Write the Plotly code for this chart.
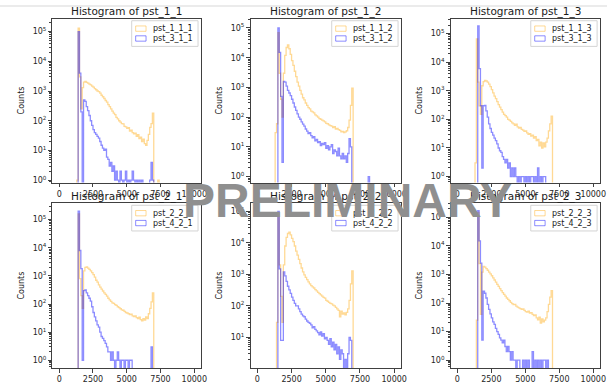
import plotly.graph_objects as go

# ---------------- data (bin counts, bins of width 100 starting at 1200) ----------------
bin_start = 1200
bin_width = 100

panel_titles = ["Histogram of pst_1_1", "Histogram of pst_1_2", "Histogram of pst_1_3",
                "Histogram of pst_2_1", "Histogram of pst_2_2", "Histogram of pst_2_3"]
orange_names = ["pst_1_1_1", "pst_1_1_2", "pst_1_1_3", "pst_2_2_1", "pst_2_2_2", "pst_2_2_3"]
blue_names = ["pst_3_1_1", "pst_3_1_2", "pst_3_1_3", "pst_4_2_1", "pst_4_2_2", "pst_4_2_3"]

pst_1_1_1 = [0, 1, 130000, 3000, 250, 1300, 2000, 2100, 1950, 1850, 1700, 1600, 1450, 1350, 1200,
             1100, 1000, 950, 850, 720, 640, 560, 480, 420, 350, 300, 250, 210, 180, 160, 130, 115,
             100, 90, 80, 78, 65, 62, 55, 58, 45, 48, 40, 36, 38, 30, 34, 25, 28, 20, 24, 17, 15,
             22, 35, 60, 80, 180, 0, 0, 0, 1]
pst_3_1_1 = [0, 0, 100000, 4000, 200, 0, 500, 450, 300, 220, 150, 100, 70, 50, 40, 35, 30, 26, 20,
             15, 12, 10, 11, 6, 5, 3, 4, 2, 3, 1, 2, 1, 0, 2, 1, 0, 1, 2, 0, 1, 0, 1, 2, 1, 0, 1,
             0, 1, 0, 1, 0, 0, 0, 0, 0, 1, 4, 1]
pst_1_1_2 = [0, 30, 60, 70000, 3000, 400, 100, 3000, 12000, 22000, 27000, 20000, 13000, 8000, 5500,
             3500, 2300, 1500, 1100, 800, 600, 450, 380, 300, 250, 210, 190, 160, 150, 140, 120,
             110, 100, 90, 85, 80, 75, 70, 62, 60, 55, 52, 50, 45, 48, 40, 42, 38, 36, 32, 33, 30,
             32, 35, 45, 80, 250, 950]
pst_3_1_2 = [0, 0, 0, 100000, 15000, 500, 3, 1600, 1500, 1100, 800, 650, 530, 400, 300, 220, 170,
             130, 100, 85, 70, 58, 50, 40, 34, 28, 30, 24, 20, 22, 16, 18, 14, 15, 11, 13, 12, 14,
             9, 11, 8, 10, 12, 6, 8, 7, 5, 9, 5, 4, 6, 4, 5, 3, 6, 19, 10, 0, 0, 0, 0, 0, 0, 0, 0,
             0, 0, 0, 0, 1]
pst_1_1_3 = [0, 3, 65000, 2000, 300, 150, 1500, 2100, 2300, 2200, 2000, 1700, 1400, 1100, 850, 650,
             530, 420, 330, 270, 220, 180, 150, 135, 120, 100, 95, 85, 75, 70, 62, 68, 55, 50, 52,
             45, 42, 38, 40, 34, 30, 32, 26, 28, 22, 25, 18, 20, 12, 16, 10, 15, 11, 16, 22, 40,
             70, 130]
pst_3_1_3 = [0, 0, 0, 185000, 6000, 300, 2, 300, 310, 200, 120, 70, 48, 35, 28, 22, 18, 14, 10, 8,
             7, 5, 4, 3, 4, 2, 3, 1, 2, 1, 2, 1, 0, 1, 0, 1, 1, 0, 1, 0, 1, 0, 1, 1, 0, 1, 0, 2, 0,
             1, 0, 1, 1]
pst_2_2_1 = [0, 0, 160000, 800, 200, 70, 1500, 2000, 2100, 1900, 1700, 1500, 1300, 1100, 900, 700,
             600, 480, 400, 340, 290, 250, 220, 190, 160, 140, 125, 110, 105, 95, 90, 80, 75, 68,
             62, 60, 55, 50, 48, 45, 42, 44, 38, 36, 38, 33, 30, 34, 28, 25, 30, 27, 35, 30, 45,
             70, 120, 250]
pst_4_2_1 = [0, 0, 200000, 8000, 1800, 1, 300, 320, 250, 200, 160, 126, 80, 50, 35, 25, 18, 15,
             10, 7, 6, 5, 4, 3, 2, 2, 1, 2, 1, 0, 1, 2, 1, 0, 1, 1, 0, 1, 1, 0, 1, 1, 0, 0, 0, 0,
             0, 0, 0, 0, 0, 0, 0, 0, 0, 0, 3]
pst_2_2_2 = [0, 0, 30, 90000, 2000, 200, 30, 2000, 8000, 15000, 20000, 22000, 18000, 14000, 11000,
             8000, 5500, 4100, 3000, 2200, 1600, 1200, 970, 800, 680, 580, 500, 440, 400, 370, 330,
             300, 270, 245, 225, 205, 185, 175, 150, 140, 130, 120, 115, 105, 100, 90, 80, 72, 45,
             68, 55, 60, 52, 62, 80, 150, 500, 1300]
pst_4_2_2 = [0, 0, 0, 100000, 1500, 8, 8, 1200, 900, 600, 420, 320, 250, 190, 150, 120, 100, 100,
             80, 66, 55, 48, 45, 38, 33, 30, 28, 25, 20, 22, 18, 16, 14, 12, 15, 11, 13, 9, 10, 8,
             6, 9, 5, 7, 4, 6, 3, 5, 2, 4, 3, 1, 2, 1, 3, 10, 8]
pst_2_2_3 = [0, 0, 25, 150000, 2400, 40, 1200, 1900, 1800, 1600, 1400, 1200, 1050, 900, 760, 640,
             540, 450, 380, 320, 270, 230, 200, 175, 150, 135, 120, 105, 95, 88, 90, 78, 72, 68,
             64, 60, 62, 55, 50, 48, 52, 44, 46, 40, 36, 38, 30, 26, 32, 20, 28, 22, 25, 30, 50,
             90, 160, 270]
pst_4_2_3 = [0, 0, 0, 170000, 15000, 2500, 5, 260, 220, 150, 90, 60, 42, 30, 22, 18, 13, 10, 8, 6,
             5, 4, 5, 3, 2, 3, 2, 1, 2, 1, 1, 0, 1, 1, 0, 0, 1, 0, 1, 0, 1, 0, 0, 2, 0, 1, 0, 1,
             0, 1, 0, 1, 1, 0, 1]

orange_series = [pst_1_1_1, pst_1_1_2, pst_1_1_3, pst_2_2_1, pst_2_2_2, pst_2_2_3]
blue_series = [pst_3_1_1, pst_3_1_2, pst_3_1_3, pst_4_2_1, pst_4_2_2, pst_4_2_3]

x_tick_vals = [0, 2500, 5000, 7500, 10000]
x_tick_text = ["0", "2500", "5000", "7500", "10000"]
y_tick_vals = [1, 10, 100, 1000, 10000, 100000]
y_tick_text = ["10<sup>0</sup>", "10<sup>1</sup>", "10<sup>2</sup>",
               "10<sup>3</sup>", "10<sup>4</sup>", "10<sup>5</sup>"]

# ---------------- layout (pixels) ----------------
W, H = 613, 384
col_px = [(53, 203), (253, 405), (455, 606)]
row_px = [(19, 185), (206, 373)]
y_ranges = [[-0.08, 5.43], [-0.2, 5.31], [-0.21, 5.52],
            [-0.28, 5.58], [0.02, 5.26], [-0.28, 5.49]]

ORANGE = "rgba(255,165,0,0.42)"
BLUE = "rgba(0,0,255,0.45)"
FONT = "DejaVu Sans"
AXC = "#404040"


def px(x):
    return x / W


def py(y):
    return 1 - y / H


def step_xy(counts):
    floor = 1e-3
    edges = [bin_start + bin_width * k for k in range(len(counts) + 1)]
    vals = [c if c > 0 else floor for c in counts]
    xs = [edges[0]] + edges + [edges[-1]]
    ys = [floor] + vals + [vals[-1], floor]
    return xs, ys


fig = go.Figure()
shapes = []
annotations = []

for i in range(6):
    r, c = divmod(i, 3)
    x0, x1 = col_px[c]
    y0, y1 = row_px[r]
    sfx = "" if i == 0 else str(i + 1)
    xa, ya = "x" + sfx, "y" + sfx

    for counts, color, name in ((orange_series[i], ORANGE, orange_names[i]),
                                (blue_series[i], BLUE, blue_names[i])):
        xs, ys = step_xy(counts)
        fig.add_trace(go.Scatter(x=xs, y=ys, mode="lines", name=name,
                                 line=dict(color=color, width=1.3, shape="hv"),
                                 xaxis=xa, yaxis=ya, showlegend=False, hoverinfo="skip"))

    fig.layout["xaxis" + sfx] = dict(
        domain=[px(x0), px(x1)], anchor=ya, range=[-500, 10500],
        tickmode="array", tickvals=x_tick_vals, ticktext=x_tick_text,
        ticks="outside", ticklen=3.5, tickwidth=0.8,
        tickcolor=AXC, showline=True, linecolor=AXC, linewidth=1, mirror=True,
        showgrid=False, zeroline=False, tickfont=dict(family=FONT, size=8, color="#262626"))
    fig.layout["yaxis" + sfx] = dict(
        domain=[py(y1), py(y0)], anchor=xa, type="log", range=y_ranges[i],
        tickmode="array", tickvals=y_tick_vals, ticktext=y_tick_text,
        ticks="outside", ticklen=3.5, tickwidth=0.8, tickcolor=AXC,
        minor=dict(ticks="outside", ticklen=2, tickwidth=0.6, tickcolor=AXC, dtick="D1",
                   showgrid=False),
        showline=True, linecolor=AXC, linewidth=1, mirror=True,
        showgrid=False, zeroline=False, tickfont=dict(family=FONT, size=8, color="#262626"))

    # title
    annotations.append(dict(text=panel_titles[i], x=px((x0 + x1) / 2), y=py(y0 - 7),
                            xref="paper", yref="paper", showarrow=False,
                            xanchor="center", yanchor="middle",
                            font=dict(family=FONT, size=10.5, color="#1a1a1a")))
    # y label
    annotations.append(dict(text="Counts", x=px(x0 - 31), y=py((y0 + y1) / 2),
                            xref="paper", yref="paper", showarrow=False, textangle=-90,
                            xanchor="center", yanchor="middle",
                            font=dict(family=FONT, size=8, color="#1a1a1a")))
    # legend (box, patches, labels)
    bx0, bx1 = x1 - 70, x1 - 3
    by0, by1 = y0 + 2, y0 + 28
    shapes.append(dict(type="rect", xref="paper", yref="paper",
                       x0=px(bx0), x1=px(bx1), y0=py(by1), y1=py(by0),
                       line=dict(color="#d4d4d4", width=1), fillcolor="rgba(255,255,255,0.85)"))
    for k, (name, color) in enumerate(((orange_names[i], ORANGE), (blue_names[i], BLUE))):
        cy = y0 + 10 + 10 * k
        shapes.append(dict(type="rect", xref="paper", yref="paper",
                           x0=px(bx0 + 4), x1=px(bx0 + 14.5), y0=py(cy + 2.7), y1=py(cy - 2.7),
                           line=dict(color=color, width=1), fillcolor="rgba(0,0,0,0)"))
        annotations.append(dict(text=name, x=px(bx0 + 19.5), y=py(cy), xref="paper", yref="paper",
                                showarrow=False, xanchor="left", yanchor="middle",
                                font=dict(family=FONT, size=8, color="#1a1a1a")))

# frame line of the screenshot
shapes.append(dict(type="line", xref="paper", yref="paper", x0=0, x1=1, y0=py(6), y1=py(6),
                   line=dict(color="#e4e4e4", width=1.5), layer="below"))

# watermark
annotations.append(dict(text="PRELIMINARY", x=px(350.5), y=py(203), xref="paper", yref="paper",
                        showarrow=False, xanchor="center", yanchor="middle",
                        font=dict(family="Liberation Sans", size=48, color="#8f8f8f",
                                  weight="bold")))

fig.update_layout(width=W, height=H, margin=dict(l=0, r=0, t=0, b=0),
                  paper_bgcolor="white", plot_bgcolor="white",
                  shapes=shapes, annotations=annotations, showlegend=False)

fig.write_html("out.html")
